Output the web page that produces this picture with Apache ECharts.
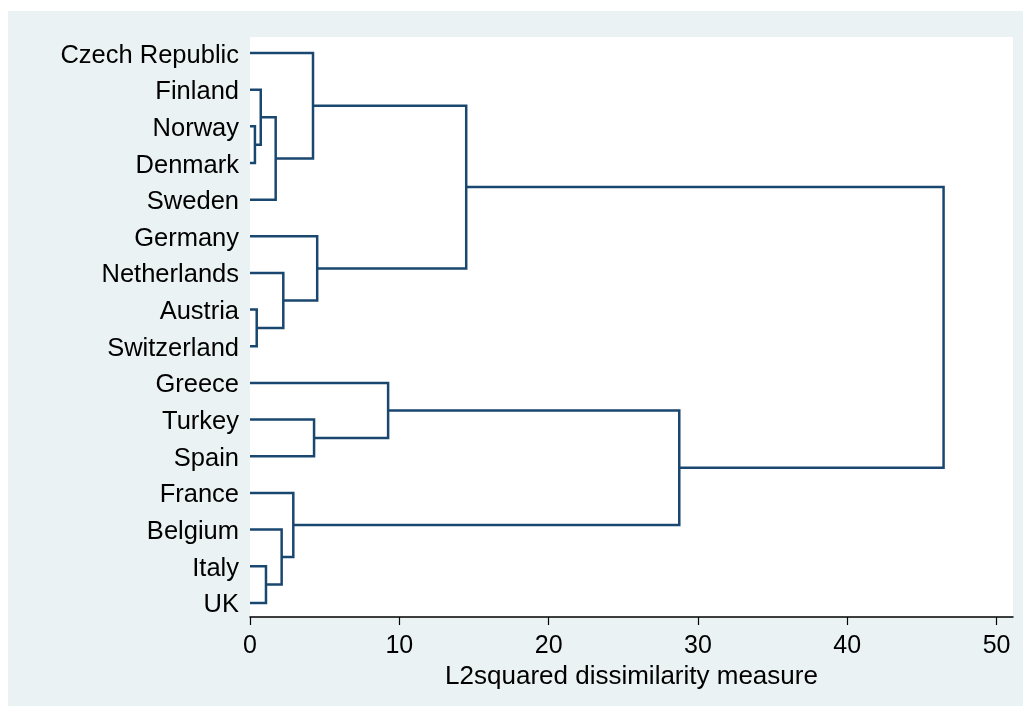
<!DOCTYPE html>
<html>
<head>
<meta charset="utf-8">
<script src="https://cdn.jsdelivr.net/npm/echarts@6/dist/echarts.min.js"></script>
<style>
html,body{margin:0;padding:0;background:#ffffff;}
#chart{width:1023px;height:706px;}
</style>
</head>
<body>
<div id="chart"></div>
<script>
// Leaves, top to bottom
const leaves = ['Czech Republic','Finland','Norway','Denmark','Sweden','Germany','Netherlands','Austria','Switzerland','Greece','Turkey','Spain','France','Belgium','Italy','UK'];
// Merges (node ids: 0-15 leaves, 16+ merged clusters in order)
const mergeA = [2, 1, 17, 0, 7, 6, 5, 19, 10, 9, 14, 13, 12, 25, 23];
const mergeB = [3, 16, 4, 18, 8, 20, 21, 22, 11, 24, 15, 26, 27, 28, 29];
const mergeHeight = [0.33, 0.72, 1.72, 4.22, 0.45, 2.23, 4.5, 14.48, 4.29, 9.25, 1.07, 2.12, 2.9, 28.75, 46.45];
const xTicks = [0, 10, 20, 30, 40, 50];
const xTitle = 'L2squared dissimilarity measure';

const nodeX = leaves.map(() => 0);
const nodeY = leaves.map((_, i) => i + 1);
const segs = [];
for (let k = 0; k < mergeA.length; k++) {
  const a = mergeA[k], b = mergeB[k], h = mergeHeight[k];
  segs.push({coords: [[nodeX[a], nodeY[a]], [h, nodeY[a]], [h, nodeY[b]], [nodeX[b], nodeY[b]]]});
  nodeX.push(h);
  nodeY.push((nodeY[a] + nodeY[b]) / 2);
}
const leafPos = leaves.map((_, i) => i + 1);

const FONT = '"Liberation Sans", Arial, Helvetica, sans-serif';
const chart = echarts.init(document.getElementById('chart'), null, {renderer: 'canvas'});
chart.setOption({
  animation: false,
  backgroundColor: '#ffffff',
  graphic: [{
    type: 'rect', z: -10, silent: true,
    shape: {x: 8, y: 11, width: 1015, height: 695},
    style: {fill: '#eaf2f3'}
  }],
  grid: {left: 250, right: 10, top: 37, bottom: 89, show: true, backgroundColor: '#ffffff', borderWidth: 0},
  xAxis: {
    type: 'value', min: 0, max: 51.1, interval: 10,
    splitLine: {show: false},
    axisLine: {show: true, lineStyle: {color: '#000000', width: 1.5}},
    axisTick: {show: true, length: 8, lineStyle: {color: '#000000', width: 1.2}, customValues: xTicks},
    axisLabel: {color: '#000000', fontSize: 25, fontFamily: FONT, margin: 17, customValues: xTicks},
    name: xTitle, nameLocation: 'middle', nameGap: 40,
    nameTextStyle: {color: '#000000', fontSize: 26, fontFamily: FONT}
  },
  yAxis: {
    type: 'value', inverse: true, min: 0.564, max: 16.384,
    splitLine: {show: false},
    axisLine: {show: false},
    axisTick: {show: false},
    axisLabel: {
      color: '#000000', fontSize: 25.5, fontFamily: FONT, margin: 11,
      customValues: leafPos,
      formatter: v => '{n|' + (leaves[Math.round(v) - 1] || '') + '}',
      rich: {n: {color: '#000000', fontSize: 25.5, fontFamily: FONT, padding: [5, 0, 0, 0]}}
    }
  },
  series: [{
    type: 'lines',
    coordinateSystem: 'cartesian2d',
    polyline: true,
    silent: true,
    lineStyle: {color: '#1a476f', width: 2.5, opacity: 1},
    data: segs
  }]
});
</script>
</body>
</html>
